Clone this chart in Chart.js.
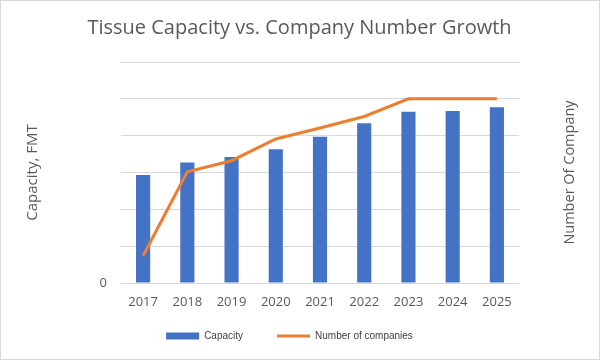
<!DOCTYPE html>
<html>
<head>
<meta charset="utf-8">
<script src="https://cdn.jsdelivr.net/npm/chart.js@4/dist/chart.umd.min.js"></script>
<style>
  html, body { margin: 0; padding: 0; background: #fff; }
  #wrap { width: 598px; height: 358px; border: 1px solid #d9d9d9; position: relative; background: #fff; }
</style>
</head>
<body>
<div id="wrap"><canvas id="c" width="598" height="358"></canvas></div>
<script>
const categories = ['2017', '2018', '2019', '2020', '2021', '2022', '2023', '2024', '2025'];
const capacity = [2.93, 3.27, 3.42, 3.63, 3.97, 4.34, 4.65, 4.67, 4.77];
const companies = [0.74, 3.02, 3.32, 3.91, 4.21, 4.52, 5.0, 5.0, 5.0];
const leftTicks = ['0', '', '', '', '', '', ''];
const titleText = 'Tissue Capacity vs. Company Number Growth';
const leftTitle = 'Capacity, FMT';
const rightTitle = 'Number Of Company';

const grey = '#595959';
const FONT = "'Open Sans', sans-serif";

const layoutPlugin = {
  id: 'layoutTweaks',
  afterLayout(chart) {
    const lg = chart.legend;
    if (lg) {
      lg.right -= 20;
      const h = lg.bottom - lg.top;
      lg.top = 296;
      lg.bottom = 296 + h;
    }
  },
  afterDraw(chart) {
    const ca = chart.chartArea;
    const ctx = chart.ctx;
    ctx.save();
    ctx.translate(569, (ca.top + ca.bottom) / 2);
    ctx.rotate(-Math.PI / 2);
    ctx.fillStyle = grey;
    ctx.font = "14.5px " + FONT;
    ctx.textAlign = 'center';
    ctx.textBaseline = 'middle';
    ctx.fillText(rightTitle, 0, 0);
    ctx.restore();
  }
};

new Chart(document.getElementById('c'), {
  type: 'bar',
  data: {
    labels: categories,
    datasets: [
      {
        type: 'line',
        label: 'Number of companies',
        data: companies,
        borderColor: '#ED7D31',
        backgroundColor: '#ED7D31',
        borderWidth: 3,
        pointRadius: 0,
        pointStyle: 'line',
        tension: 0,
        yAxisID: 'y',
        order: 0
      },
      {
        type: 'bar',
        label: 'Capacity',
        data: capacity,
        backgroundColor: '#4472C4',
        borderWidth: 0,
        pointStyle: 'rect',
        barPercentage: 0.32,
        categoryPercentage: 1.0,
        yAxisID: 'y',
        order: 1
      }
    ]
  },
  options: {
    responsive: false,
    animation: false,
    layout: { padding: { left: 12, right: 13, top: 0, bottom: -14 } },
    plugins: {
      title: {
        display: true,
        text: titleText,
        color: grey,
        font: { family: FONT, size: 20, weight: 'normal' },
        padding: { top: 15, bottom: 22 }
      },
      legend: {
        position: 'bottom',
        reverse: true,
        labels: {
          usePointStyle: true,
          pointStyleWidth: 33,
          boxWidth: 33,
          boxHeight: 7,
          padding: 34,
          color: '#404040',
          font: { family: "'Liberation Sans', Arial, sans-serif", size: 10 }
        }
      },
      tooltip: { enabled: false }
    },
    scales: {
      x: {
        grid: { display: false, drawTicks: false },
        border: { display: false },
        ticks: { color: grey, font: { family: FONT, size: 13 }, padding: 11 },
        afterFit(s) { s.height = 36; }
      },
      y: {
        position: 'left',
        min: 0,
        max: 6,
        grid: { color: '#d9d9d9', lineWidth: 1, drawTicks: false },
        border: { display: false },
        ticks: {
          stepSize: 1,
          color: grey,
          padding: 14,
          font: { family: FONT, size: 13 },
          callback: (v, i) => leftTicks[i]
        },
        title: {
          display: true,
          text: leftTitle,
          color: grey,
          font: { family: FONT, size: 15 },
          padding: { top: 11, bottom: 0 }
        },
        afterFit(s) { s.width = 108; }
      },
      y1: {
        position: 'right',
        min: 0,
        max: 6,
        grid: { display: false, drawTicks: false },
        border: { display: false },
        ticks: { display: false },
        afterFit(s) { s.width = 67; }
      }
    }
  },
  plugins: [layoutPlugin]
});
</script>
</body>
</html>
